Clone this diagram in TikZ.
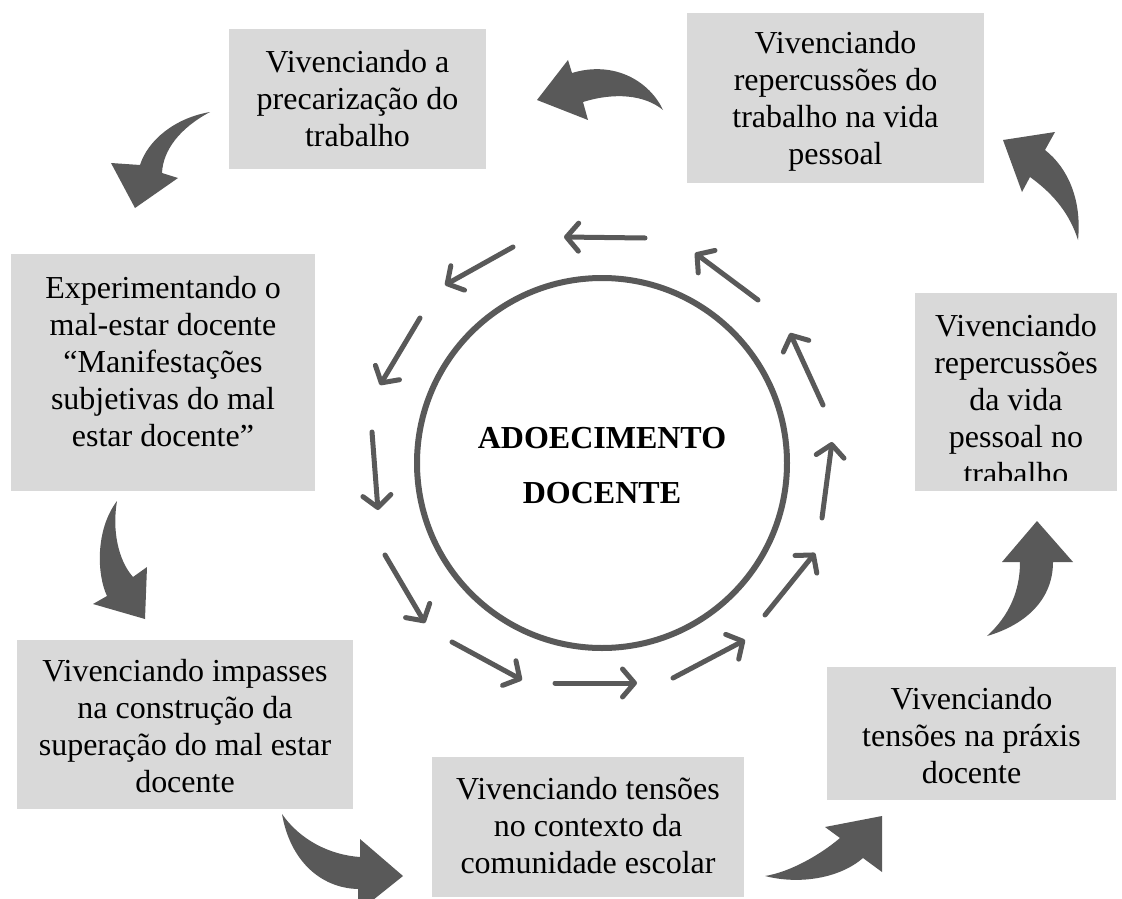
\documentclass[tikz,border=0pt]{standalone}
\usepackage{fontspec}
\setmainfont{Liberation Serif}
\usetikzlibrary{arrows.meta}
\definecolor{boxgray}{HTML}{D9D9D9}
\definecolor{arrowgray}{HTML}{595959}
\tikzset{
  box/.style={fill=boxgray, draw=none, inner sep=0pt, rectangle},
  txt/.style={align=center, inner sep=0pt, font=\fontsize{32}{37}\selectfont, text=black},
  ctxt/.style={align=center, inner sep=0pt, font=\fontsize{32}{55}\selectfont\bfseries, text=black},
  ring/.style={draw=arrowgray, line width=6pt, circle, minimum size=370pt, inner sep=0pt},
  smallarrow/.style={draw=arrowgray, line width=5pt, line cap=round,
     -{Straight Barb[length=12pt, width=28pt, round]}},
  bigarrow/.style={fill=arrowgray, draw=none}
}
\begin{document}
\begin{tikzpicture}[x=1pt, y=-1pt]
\useasboundingbox (0,0) rectangle (1122,899);
\fill[white] (0,0) rectangle (1122,899);

% boxes
\node[box, minimum width=257pt, minimum height=140pt] (tl) at (357.5,99) {};
\node[box, minimum width=297pt, minimum height=170pt] (tr) at (835.5,98) {};
\node[box, minimum width=304pt, minimum height=237pt] (l) at (163,372.5) {};
\node[box, minimum width=202pt, minimum height=198pt] (r) at (1016,392) {};
\node[box, minimum width=336pt, minimum height=169pt] (bl) at (185,724.5) {};
\node[box, minimum width=312pt, minimum height=140pt] (b) at (588,827) {};
\node[box, minimum width=289pt, minimum height=133pt] (br) at (971.5,733.5) {};

% box texts
\node[txt] (tlt) at (tl.center) {Vivenciando a\\precarização do\\trabalho};
\node[txt] (trt) at (835.5,101) {Vivenciando\\repercussões do\\trabalho na vida\\pessoal};
\node[txt] (lt) at (163,361.5) {Experimentando o\\mal-estar docente\\“Manifestações\\subjetivas do mal\\estar docente”};
\begin{scope}
  \clip (915,293) rectangle (1117,480);
  \node[txt] (rt) at (1016,399.5) {Vivenciando\\repercussões\\da vida\\pessoal no\\trabalho};
\end{scope}
\node[txt] (blt) at (185,726.5) {Vivenciando impasses\\na construção da\\superação do mal estar\\docente};
\node[txt] (bt) at (588,825.5) {Vivenciando tensões\\no contexto da\\comunidade escolar};
\node[txt] (brt) at (971.5,735.5) {Vivenciando\\tensões na práxis\\docente};

% central circle
\node[ring] (c) at (602,463) {};
\node[ctxt] (ct) at (602,465.5) {ADOECIMENTO\\DOCENTE};

% small arrows around circle
\foreach \i/\sx/\sy/\ex/\ey in {
  1/645/238/564/237, 2/513/247/445/285, 3/420/318/380/385,
  4/372/432/378/510, 5/385/555/425/623, 6/452/642/522/680,
  7/555/683/637/683, 8/673/678/745/640, 9/765/615/815/553,
  10/822/518/832/442, 11/823/405/790/333, 12/758/300/695/253} {
  \coordinate (s\i) at (\sx,\sy);
  \coordinate (e\i) at (\ex,\ey);
  \draw[smallarrow] (s\i) -- (e\i);
}

% big curved arrows
% TR -> TL (top, pointing left)
\fill[bigarrow] (663,110) .. controls (650,82) and (615,60) .. (572,73)
  -- (568,60) -- (537,100) -- (588,120) -- (583,102)
  .. controls (615,92) and (645,95) .. (663,110) -- cycle;
% TL -> L
\fill[bigarrow] (210,112) .. controls (175,118) and (148,140) .. (140,165)
  -- (111,163) -- (135,208) -- (178,178) -- (162,173)
  .. controls (163,150) and (180,128) .. (210,112) -- cycle;
% L -> BL
\fill[bigarrow] (117,501) .. controls (95,530) and (97,575) .. (107,596)
  -- (93,604) -- (145,619) -- (147,567) -- (133,577)
  .. controls (118,560) and (112,530) .. (117,501) -- cycle;
% BL -> B
\fill[bigarrow] (282,814) .. controls (300,840) and (330,855) .. (360,857)
  -- (360,839) -- (403,876) -- (358,912) -- (358,889)
  .. controls (320,888) and (290,860) .. (282,814) -- cycle;
% B -> BR
\fill[bigarrow] (765,876) .. controls (790,872) and (820,855) .. (840,838)
  -- (825,827) -- (882,816) -- (882,872) -- (863,858)
  .. controls (840,878) and (800,885) .. (765,876) -- cycle;
% BR -> R
\fill[bigarrow] (987,636) .. controls (1010,615) and (1020,590) .. (1020,562)
  -- (1002,562) -- (1037,521) -- (1073,562) -- (1053,562)
  .. controls (1053,600) and (1025,625) .. (987,636) -- cycle;
% R -> TR
\fill[bigarrow] (1078,240) .. controls (1082,200) and (1068,168) .. (1045,150)
  -- (1055,132) -- (1003,140) -- (1022,192) -- (1030,177)
  .. controls (1055,195) and (1070,215) .. (1078,240) -- cycle;
\end{tikzpicture}
\end{document}
